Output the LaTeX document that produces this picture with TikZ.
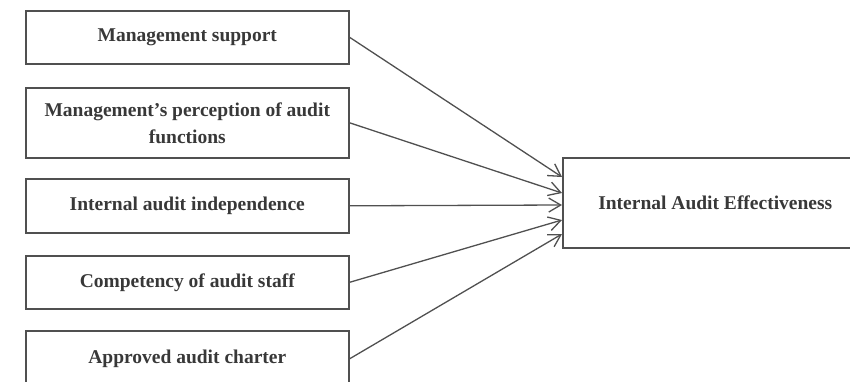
\documentclass[tikz,border=0pt]{standalone}
\usepackage{fontspec}
\setmainfont{Liberation Serif}
\usetikzlibrary{arrows.meta}
\definecolor{ln}{HTML}{505050}
\definecolor{tx}{HTML}{383838}
\tikzset{
  lbox/.style={draw=ln, line width=1.6pt, minimum width=323pt, inner sep=0pt, anchor=north west, text=tx, font=\bfseries\fontsize{19.5}{27}\selectfont, align=center},
  arr/.style={draw=ln, line width=1.3pt, -{Straight Barb[length=12pt,width=14pt,line width=1.3pt]}}
}
\begin{document}
\begin{tikzpicture}[x=1pt,y=-1pt]
\useasboundingbox (0,0) rectangle (850,381);
\node[lbox, minimum height=53pt] (b1) at (25,10) {Management support};
\node[lbox, minimum height=70pt] (b2) at (25,87) {Management’s perception of audit\\functions};
\node[lbox, minimum height=54pt] (b3) at (25,178) {Internal audit independence};
\node[lbox, minimum height=53pt] (b4) at (25,255) {Competency of audit staff};
\node[lbox, minimum height=56pt] (b5) at (25,330) {Approved audit charter};
\node[lbox, minimum width=305pt, minimum height=90pt] (r) at (562,157) {Internal Audit Effectiveness};
\coordinate (e1) at (562,177);
\coordinate (e2) at (562,193);
\coordinate (e3) at (562,205);
\coordinate (e4) at (562,220);
\coordinate (e5) at (562,234);
\draw[arr] (b1.east) -- (e1);
\draw[arr] (b2.east) -- (e2);
\draw[arr] (b3.east) -- (e3);
\draw[arr] (b4.east) -- (e4);
\draw[arr] (b5.east) -- (e5);
\end{tikzpicture}
\end{document}
